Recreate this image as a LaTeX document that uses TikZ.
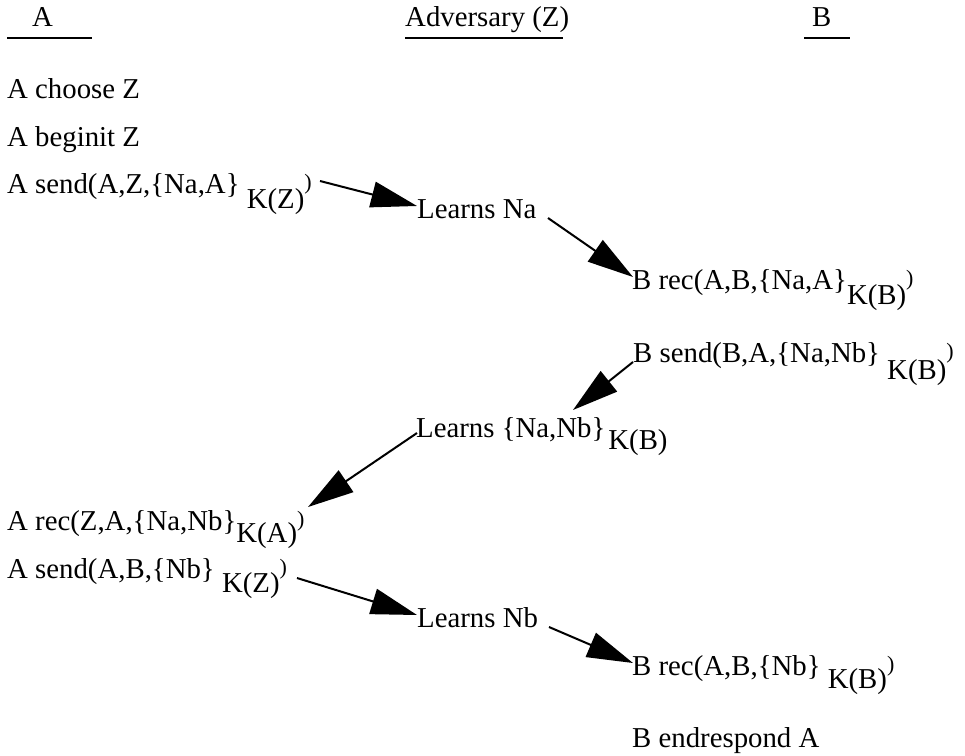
\documentclass[tikz,border=0pt]{standalone}
\usepackage{fontspec}
\setmainfont{Liberation Serif}
\usetikzlibrary{arrows.meta}
\newcommand{\rparsmall}{\raisebox{4pt}{\fontsize{22}{23}\selectfont)}}
\newcommand{\keysub}[2][14pt]{\raisebox{-#1}{#2}\rparsmall}
\begin{document}
\begin{tikzpicture}[x=1pt,y=-1pt,
  txt/.style={anchor=base west,inner sep=0pt,font=\fontsize{28.8}{30}\selectfont},
  ul/.style={line width=2pt},
  arr/.style={line width=2pt,-{Triangle[length=46pt,width=26pt]}}]
\useasboundingbox (0,0) rectangle (965,755);
% headers
\node[txt] (hA) at (32,26) {A};
\node[txt] (hZ) at (405,26) {Adversary (Z)};
\node[txt] (hB) at (812,26) {B};
\draw[ul] (7,37.5) -- (92,37.5);
\draw[ul] (405,37.5) -- (563,37.5);
\draw[ul] (804,37.5) -- (850,37.5);
% events
\node[txt] (a1) at (7,98) {A choose Z};
\node[txt] (a2) at (7,146) {A beginit Z};
\node[txt] (a3) at (7,193) {A send(A,Z,\{Na,A\} \keysub[15pt]{K(Z)}};
\node[txt] (z1) at (417,218) {Learns Na};
\node[txt] (b1) at (632,289) {B rec(A,B,\{Na,A\}\keysub[15pt]{K(B)}};
\node[txt] (b2) at (633,362) {B send(B,A,\{Na,Nb\} \keysub[17pt]{K(B)}};
\node[txt] (z2) at (416,437) {Learns \{Na,Nb\}\hspace{3pt}\raisebox{-12pt}{K(B)}};
\node[txt] (a4) at (7,530) {A rec(Z,A,\{Na,Nb\}\keysub[12pt]{K(A)}};
\node[txt] (a5) at (7,578) {A send(A,B,\{Nb\} \keysub{K(Z)}};
\node[txt] (z3) at (417,627) {Learns Nb};
\node[txt] (b3) at (632,675) {B rec(A,B,\{Nb\} \keysub[13pt]{K(B)}};
\node[txt] (b4) at (632,747) {B endrespond A};
% connector ends
\coordinate (s1) at (320,181); \coordinate (e1) at (417,206);
\coordinate (s2) at (548,218); \coordinate (e2) at (633,277);
\coordinate (s3) at (633,362); \coordinate (e3) at (573,410);
\coordinate (s4) at (417,433); \coordinate (e4) at (308,507);
\coordinate (s5) at (297,578); \coordinate (e5) at (417,615);
\coordinate (s6) at (549,627); \coordinate (e6) at (633,663);
\draw[arr] (s1) -- (e1);
\draw[arr] (s2) -- (e2);
\draw[arr] (s3) -- (e3);
\draw[arr] (s4) -- (e4);
\draw[arr] (s5) -- (e5);
\draw[arr] (s6) -- (e6);
\end{tikzpicture}
\end{document}
